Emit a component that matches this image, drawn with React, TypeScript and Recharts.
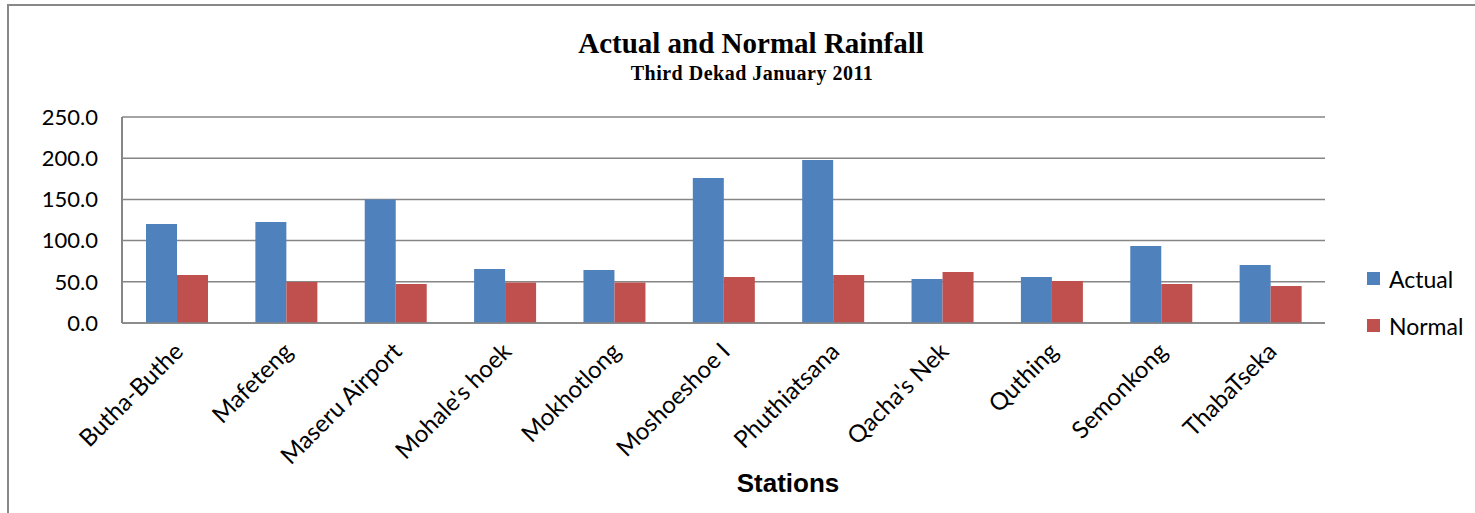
import { BarChart, Bar, XAxis, YAxis, CartesianGrid } from 'recharts'

const stations = [
  'Butha-Buthe',
  'Mafeteng',
  'Maseru Airport',
  "Mohale's hoek",
  'Mokhotlong',
  'Moshoeshoe I',
  'Phuthiatsana',
  "Qacha's Nek",
  'Quthing',
  'Semonkong',
  'ThabaTseka',
]
const actual = [120.1, 122.6, 150.0, 65.5, 64.3, 176.0, 197.8, 53.4, 55.8, 93.4, 70.4]
const normal = [58.3, 49.8, 47.3, 49.0, 49.0, 55.8, 58.3, 61.9, 51.0, 47.3, 44.9]
const yTicks = [0, 50, 100, 150, 200, 250]

const rows = stations.map((name, i) => ({ name, actual: actual[i], normal: normal[i] }))

const COLORS = { actual: '#4F81BD', normal: '#C0504D', grid: '#868686' }
const FONT = 'Lato, "Open Sans", sans-serif'

function StationTick({ x, y, payload }: any) {
  const ax = x + 8
  const ay = y + 22
  return (
    <text
      x={ax}
      y={ay}
      transform={`rotate(-45 ${ax} ${ay})`}
      textAnchor="end"
      fontFamily={FONT}
      fontSize={24}
      fill="#000"
    >
      {payload.value}
    </text>
  )
}

function LegendBox() {
  const items = [
    { label: 'Actual', color: COLORS.actual },
    { label: 'Normal', color: COLORS.normal },
  ]
  return (
    <div
      style={{
        position: 'absolute',
        left: 1367,
        top: 255,
        fontFamily: FONT,
        fontSize: 23,
        color: '#000',
      }}
    >
      {items.map(it => (
        <div key={it.label} style={{ display: 'flex', alignItems: 'center', height: 47 }}>
          <span style={{ width: 13, height: 13, background: it.color, marginRight: 9 }} />
          <span>{it.label}</span>
        </div>
      ))}
    </div>
  )
}

export default function App() {
  return (
    <div style={{ position: 'absolute', left: 0, top: 0, width: 1475, height: 513, background: '#fff' }}>
      <div
        style={{
          position: 'absolute',
          left: 7,
          top: 4,
          width: 1468,
          height: 509,
          borderTop: '2px solid #888',
          borderLeft: '2px solid #888',
        }}
      />
      <div
        style={{
          position: 'absolute',
          left: 0,
          width: 1502,
          top: 27,
          textAlign: 'center',
          fontFamily: '"Liberation Serif", "Times New Roman", serif',
          fontWeight: 'bold',
          fontSize: 29,
          lineHeight: '32px',
        }}
      >
        Actual and Normal Rainfall
      </div>
      <div
        style={{
          position: 'absolute',
          left: 0,
          width: 1504,
          top: 62,
          textAlign: 'center',
          fontFamily: '"Liberation Serif", "Times New Roman", serif',
          fontWeight: 'bold',
          fontSize: 20,
          lineHeight: '22px',
          letterSpacing: 0.5,
        }}
      >
        Third Dekad January 2011
      </div>
      <div
        style={{
          position: 'absolute',
          left: 0,
          width: 1576,
          top: 468,
          textAlign: 'center',
          fontFamily: '"Liberation Sans", Arial, sans-serif',
          fontWeight: 'bold',
          fontSize: 26,
          lineHeight: '30px',
        }}
      >
        Stations
      </div>
      <BarChart
        width={1475}
        height={513}
        data={rows}
        margin={{ top: 117, right: 150, left: 0, bottom: 0 }}
        barGap={0}
        style={{ position: 'absolute', left: 0, top: 0 }}
      >
        <CartesianGrid vertical={false} stroke={COLORS.grid} strokeWidth={1.5} />
        <XAxis
          dataKey="name"
          interval={0}
          height={190}
          tick={<StationTick />}
          tickLine={false}
          axisLine={{ stroke: COLORS.grid, strokeWidth: 1.5 }}
        />
        <YAxis
          domain={[0, 250]}
          ticks={yTicks}
          interval={0}
          width={122}
          tickFormatter={(v: number) => v.toFixed(1)}
          tickLine={false}
          tickSize={0}
          tickMargin={24}
          axisLine={{ stroke: COLORS.grid, strokeWidth: 2 }}
          tick={{ fontFamily: FONT, fontSize: 22, fill: '#000' }}
        />
        <Bar dataKey="actual" name="Actual" fill={COLORS.actual} barSize={31} isAnimationActive={false} />
        <Bar dataKey="normal" name="Normal" fill={COLORS.normal} barSize={31} isAnimationActive={false} />
      </BarChart>
      <LegendBox />
    </div>
  )
}
